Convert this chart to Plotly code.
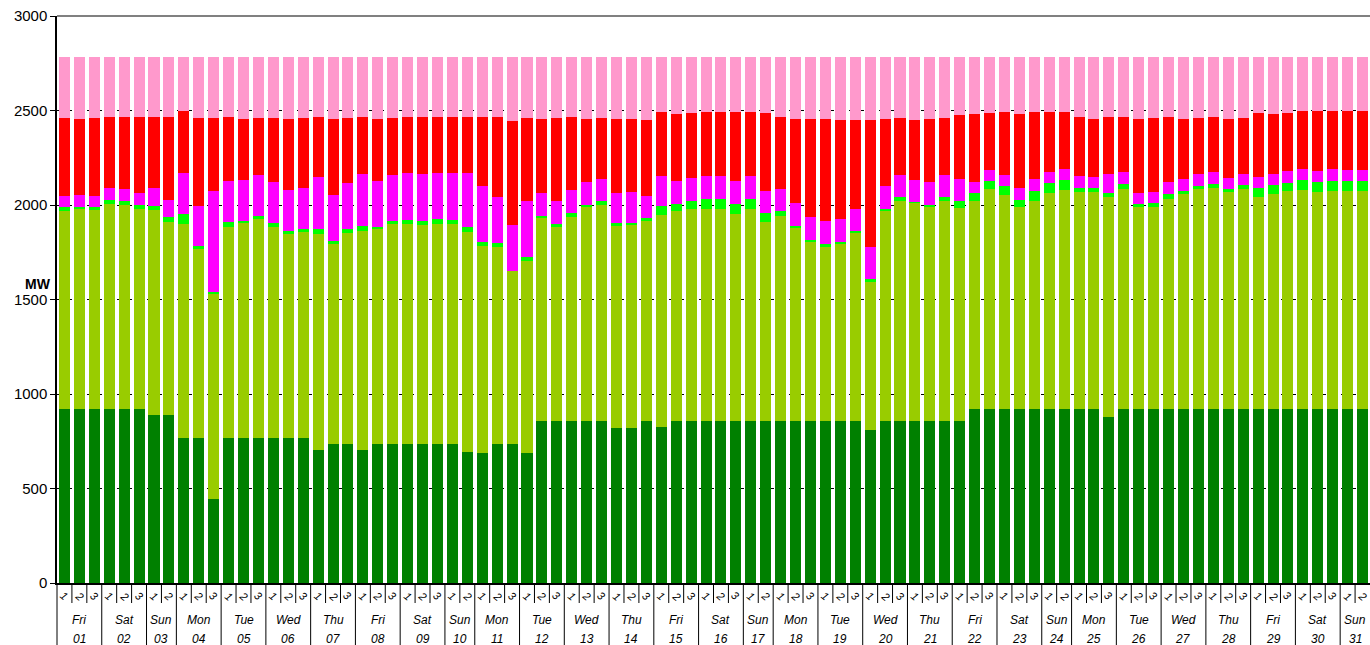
import plotly.graph_objects as go

# ---- categories ----
day_names = ["Fri", "Sat", "Sun", "Mon", "Tue", "Wed", "Thu", "Fri", "Sat", "Sun",
             "Mon", "Tue", "Wed", "Thu", "Fri", "Sat", "Sun", "Mon", "Tue", "Wed",
             "Thu", "Fri", "Sat", "Sun", "Mon", "Tue", "Wed", "Thu", "Fri", "Sat", "Sun"]
day_numbers = ["01", "02", "03", "04", "05", "06", "07", "08", "09", "10",
               "11", "12", "13", "14", "15", "16", "17", "18", "19", "20",
               "21", "22", "23", "24", "25", "26", "27", "28", "29", "30", "31"]
periods_per_day = [3, 3, 2, 3, 3, 3, 3, 3, 3, 2, 3, 3, 3, 3, 3, 3, 2, 3, 3, 3,
                   3, 3, 3, 2, 3, 3, 3, 3, 3, 3, 2]
period_names = ["1", "2", "3"]

# ---- series: cumulative levels (MW), one value per bar ----
level_dark_green = [920, 920, 920, 920, 920, 920, 890, 890, 765, 765, 445,
                    765, 765, 765, 765, 765, 765, 705, 735, 735, 705,
                    735, 735, 735, 735, 735, 735, 693, 686, 735, 735, 686,
                    859, 859, 859, 859, 859, 820, 820, 859, 827,
                    859, 859, 859, 859, 859, 859, 859, 859, 859, 859, 859, 859, 859,
                    810, 859, 859, 859, 859, 859, 859,
                    920, 920, 920, 920, 920, 920, 920, 920, 920, 880,
                    920, 920, 920, 920, 920, 920, 920, 920, 920, 920, 920, 920, 920, 920, 920, 920, 920]
level_yellow_green = [1968, 1979, 1972, 2005, 2000, 1977, 1974, 1908, 1899, 1765, 1527,
                      1885, 1903, 1924, 1885, 1847, 1857, 1847, 1795, 1854, 1862,
                      1871, 1899, 1899, 1896, 1899, 1899, 1857, 1781, 1776, 1651, 1704,
                      1931, 1882, 1935, 1988, 2000, 1889, 1892, 1917, 1947,
                      1966, 1979, 1979, 1979, 1952, 1979, 1910, 1942, 1877, 1802, 1780, 1795, 1850,
                      1594, 1966, 2023, 2009, 1988, 2023, 1982,
                      2021, 2083, 2053, 1988, 2021, 2062, 2079, 2067, 2071, 2042,
                      2085, 1988, 1988, 2033, 2060, 2083, 2088, 2071, 2083, 2041, 2060, 2074, 2078, 2069, 2072, 2072, 2072]
level_bright_green = [1988, 1991, 1988, 2028, 2023, 2002, 1996, 1937, 1952, 1783, 1541,
                      1910, 1917, 1942, 1906, 1864, 1875, 1871, 1811, 1871, 1887,
                      1884, 1917, 1922, 1917, 1926, 1922, 1884, 1806, 1797, 1651, 1723,
                      1942, 1899, 1959, 2000, 2019, 1905, 1907, 1931, 1996,
                      2007, 2023, 2032, 2032, 2007, 2032, 1958, 1968, 1889, 1817, 1794, 1806, 1862,
                      1607, 1979, 2041, 2016, 1998, 2041, 2019,
                      2064, 2127, 2099, 2026, 2074, 2115, 2131, 2092, 2088, 2065,
                      2113, 2005, 2009, 2060, 2074, 2102, 2113, 2086, 2104, 2088, 2104, 2118, 2131, 2120, 2129, 2127, 2127]
level_magenta = [2048, 2053, 2048, 2088, 2083, 2062, 2088, 2026, 2168, 1997, 2076,
                 2127, 2132, 2159, 2122, 2079, 2092, 2148, 2053, 2116, 2164,
                 2127, 2160, 2169, 2164, 2169, 2169, 2169, 2099, 2042, 1894, 2021,
                 2063, 2021, 2079, 2122, 2138, 2063, 2069, 2048, 2152,
                 2127, 2143, 2152, 2152, 2127, 2152, 2074, 2085, 2011, 1937, 1915, 1926, 1979,
                 1778, 2101, 2159, 2132, 2120, 2159, 2138,
                 2122, 2187, 2159, 2088, 2136, 2173, 2190, 2153, 2148, 2166,
                 2173, 2063, 2069, 2120, 2138, 2164, 2173, 2145, 2164, 2148, 2164, 2178, 2189, 2182, 2189, 2187, 2187]
level_red = [2462, 2457, 2459, 2467, 2467, 2467, 2467, 2467, 2497, 2459, 2459,
             2467, 2457, 2459, 2459, 2455, 2459, 2467, 2457, 2459, 2467,
             2457, 2459, 2467, 2467, 2467, 2467, 2467, 2467, 2467, 2446, 2462,
             2453, 2459, 2467, 2457, 2460, 2457, 2457, 2452, 2494,
             2483, 2489, 2494, 2494, 2494, 2494, 2489, 2467, 2455, 2457, 2453, 2452, 2452,
             2452, 2457, 2459, 2450, 2455, 2459, 2476,
             2482, 2487, 2494, 2480, 2494, 2494, 2494, 2466, 2457, 2464,
             2467, 2457, 2462, 2467, 2457, 2462, 2467, 2457, 2462, 2487, 2483, 2487, 2497, 2497, 2497, 2497, 2497]
level_pink = [2785] * 88

y_ticks = [0, 500, 1000, 1500, 2000, 2500, 3000]

# ---- styling ----
FONT = "Liberation Sans, Arial, sans-serif"
PLOT_H = 567  # px height of plotting area
n_bars = sum(periods_per_day)
x = list(range(n_bars))

fig = go.Figure()
layers = [
    (level_pink, "#FF99CC"),
    (level_red, "#FF0000"),
    (level_magenta, "#FF00FF"),
    (level_bright_green, "#00FF00"),
    (level_yellow_green, "#99CC00"),
    (level_dark_green, "#008000"),
]
for vals, col in layers:
    fig.add_trace(go.Bar(x=x, y=vals, width=0.74, marker=dict(color=col, line=dict(width=0)),
                         showlegend=False))

annotations = []
shapes = []

# period labels and separators
idx = 0
for d, n in enumerate(periods_per_day):
    start = idx
    for p in range(n):
        annotations.append(dict(x=idx, y=0, xref="x", yref="paper", text="<i>%s</i>" % period_names[p],
                                showarrow=False, yanchor="middle", yshift=-13, textangle=40,
                                font=dict(family=FONT, size=11, color="black")))
        if p < n - 1:
            xb = (idx + 1) / n_bars
            shapes.append(dict(type="line", xref="paper", yref="paper", x0=xb, x1=xb,
                               y0=0, y1=-20 / PLOT_H, line=dict(color="black", width=1)))
        idx += 1
    center = (start + idx - 1) / 2
    annotations.append(dict(x=center, y=0, xref="x", yref="paper", text="<i>%s</i>" % day_names[d],
                            showarrow=False, yanchor="middle", yshift=-37,
                            font=dict(family=FONT, size=12, color="black")))
    annotations.append(dict(x=center, y=0, xref="x", yref="paper", text="<i>%s</i>" % day_numbers[d],
                            showarrow=False, yanchor="middle", yshift=-56,
                            font=dict(family=FONT, size=12, color="black")))
    xb = start / n_bars
    shapes.append(dict(type="line", xref="paper", yref="paper", x0=xb, x1=xb,
                       y0=0, y1=-62 / PLOT_H, line=dict(color="black", width=1)))

# top border line at 3000
shapes.append(dict(type="line", xref="paper", yref="paper", x0=0, x1=1, y0=1, y1=1,
                   line=dict(color="#808080", width=2)))

annotations.append(dict(x=0, y=1582, xref="paper", yref="y", text="<b>MW</b>", showarrow=False,
                        xanchor="right", yanchor="middle", xshift=-4,
                        font=dict(family=FONT, size=14, color="black")))

fig.update_layout(
    width=1370, height=645,
    margin=dict(l=57, r=0, t=16, b=62),
    barmode="overlay", bargap=0,
    plot_bgcolor="white", paper_bgcolor="white",
    font=dict(family=FONT, color="black"),
    annotations=annotations, shapes=shapes,
    xaxis=dict(range=[-0.5, n_bars - 0.5], showticklabels=False, showgrid=False, zeroline=False,
               showline=True, linecolor="black", linewidth=1.5, ticks=""),
    yaxis=dict(range=[0, 3000], tickvals=y_ticks, showgrid=True, gridcolor="black", gridwidth=1,
               griddash="dot", zeroline=False, showline=True, linecolor="black", linewidth=1.5,
               ticks="outside", ticklen=5, tickcolor="black",
               tickfont=dict(family=FONT, size=15, color="black")),
)

fig.write_html("out.html", config={"displayModeBar": False},
               post_script="document.body.style.margin='0px';document.body.style.overflow='hidden';")
